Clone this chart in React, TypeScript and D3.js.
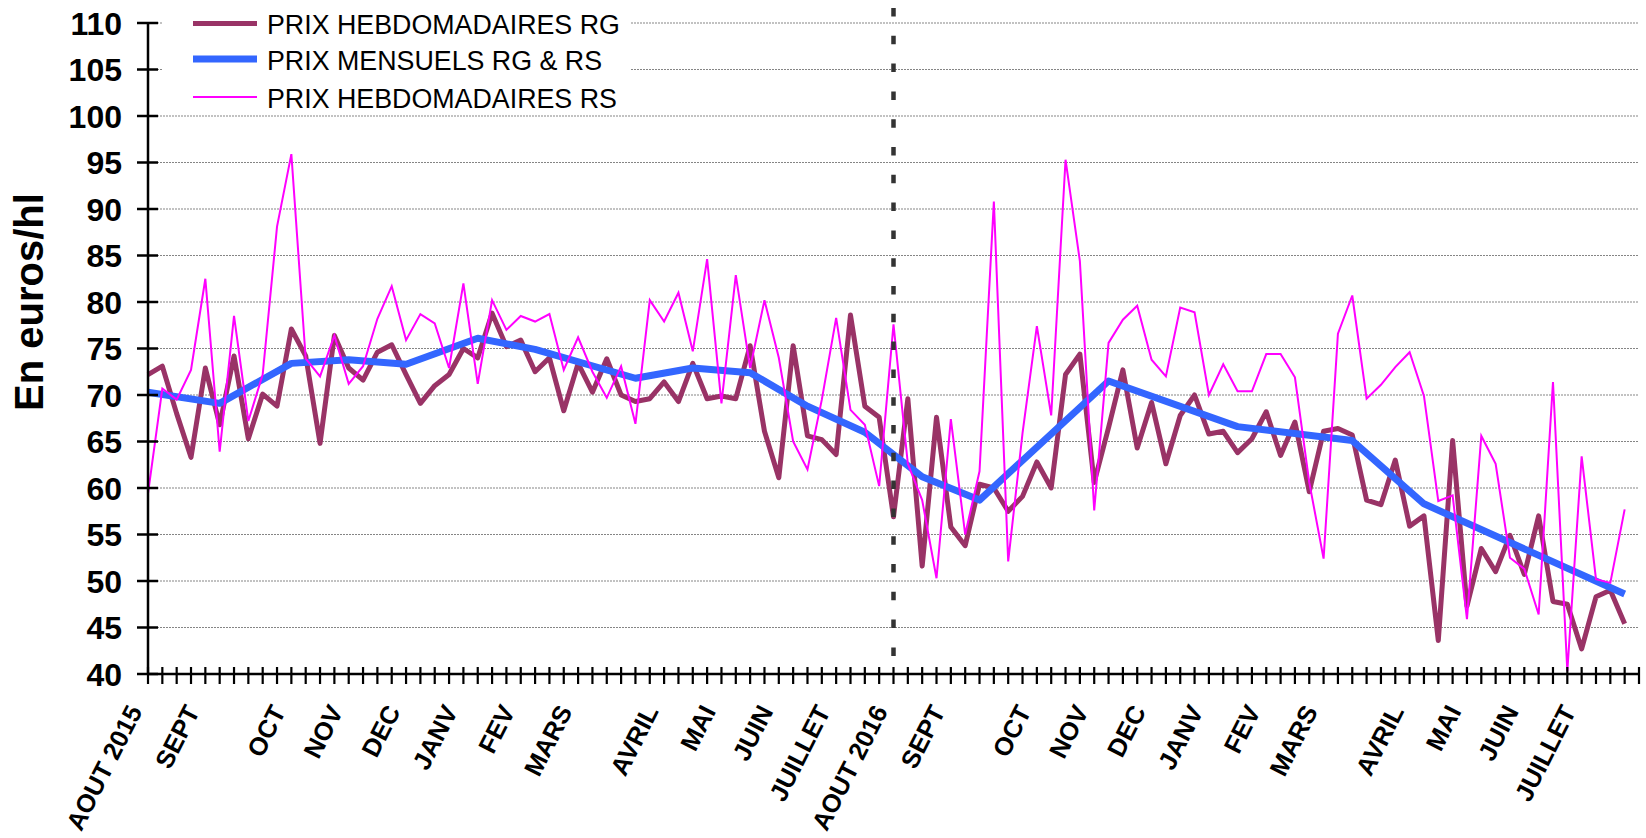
import { useEffect, useRef } from 'react';
import * as d3 from 'd3';

// weekly prices, AOUT 2015 -> JUILLET 2017 (euros/hl)
const weeklyRG = [
  72.2, 73.1, 68.0, 63.3, 72.9, 66.8, 74.2, 65.3, 70.1, 68.8,
  77.1, 74.2, 64.8, 76.4, 72.9, 71.6, 74.6, 75.4, 72.2, 69.1,
  71.0, 72.2, 75.0, 74.0, 78.8, 75.2, 75.9, 72.5, 74.0, 68.3,
  73.4, 70.3, 73.9, 70.0, 69.3, 69.6, 71.4, 69.3, 73.4, 69.6,
  69.9, 69.6, 75.3, 66.1, 61.1, 75.3, 65.6, 65.2, 63.6, 78.6,
  68.8, 67.6, 56.9, 69.6, 51.6, 67.6, 55.8, 53.8, 60.4, 60.0,
  57.5, 59.1, 62.8, 60.0, 72.2, 74.4, 60.6, 66.5, 72.7, 64.3,
  69.2, 62.6, 67.8, 70.0, 65.8, 66.1, 63.8, 65.3, 68.2, 63.5,
  67.1, 59.6, 66.1, 66.4, 65.7, 58.7, 58.2, 63.0, 55.9, 57.0,
  43.6, 65.1, 47.3, 53.5, 51.0, 54.9, 50.7, 57.0, 47.8, 47.5,
  42.7, 48.3, 49.0, 45.4,
];

const weeklyRS = [
  59.4, 70.7, 69.5, 72.7, 82.5, 63.9, 78.5, 67.2, 72.2, 88.1,
  95.9, 73.9, 72.0, 76.4, 71.2, 73.1, 78.2, 81.7, 75.9, 78.7,
  77.7, 72.9, 82.0, 71.2, 80.2, 77.0, 78.5, 77.9, 78.7, 72.7,
  76.2, 72.5, 69.7, 73.1, 66.9, 80.2, 77.9, 81.0, 74.7, 84.6,
  69.1, 82.9, 72.9, 80.2, 74.0, 65.0, 62.0, 69.5, 78.3, 68.4,
  66.8, 60.2, 77.6, 62.6, 58.7, 50.3, 67.4, 55.0, 61.8, 90.8,
  52.1, 65.9, 77.4, 67.8, 95.3, 84.4, 57.6, 75.6, 78.1, 79.6,
  73.8, 72.0, 79.4, 78.9, 70.0, 73.3, 70.4, 70.4, 74.4, 74.4,
  71.9, 60.6, 52.4, 76.6, 80.7, 69.6, 71.1, 73.0, 74.6, 69.9,
  58.6, 59.2, 45.9, 65.6, 62.6, 52.5, 51.3, 46.4, 71.4, 40.3,
  63.4, 50.2, 49.8, 57.7,
];

// monthly price RG & RS, placed on the week where it was published
const monthlyWeek = [0, 5, 10, 14, 18, 23, 27, 34, 38, 42, 46, 50, 54, 58, 67, 76, 84, 89, 103];
const monthlyPrice = [70.3, 69.1, 73.4, 73.8, 73.3, 76.1, 74.9, 71.8, 72.9, 72.4, 68.8, 66.0, 61.2, 58.7, 71.5, 66.6, 65.1, 58.3, 48.6];

const monthLabels = [
  'AOUT 2015', 'SEPT', 'OCT', 'NOV', 'DEC', 'JANV', 'FEV', 'MARS', 'AVRIL', 'MAI', 'JUIN', 'JUILLET',
  'AOUT 2016', 'SEPT', 'OCT', 'NOV', 'DEC', 'JANV', 'FEV', 'MARS', 'AVRIL', 'MAI', 'JUIN', 'JUILLET',
];
const monthLabelWeek = [0, 4, 10, 14, 18, 22, 26, 30, 36, 40, 44, 48, 52, 56, 62, 66, 70, 74, 78, 82, 88, 92, 96, 100];

const yTicks = [40, 45, 50, 55, 60, 65, 70, 75, 80, 85, 90, 95, 100, 105, 110];
const weekCount = 105;
const splitWeek = 52;

const legendNames = ['PRIX HEBDOMADAIRES RG', 'PRIX MENSUELS RG & RS', 'PRIX HEBDOMADAIRES RS'];

const App = () => {
  const ref = useRef<SVGSVGElement>(null);

  useEffect(() => {
    const left = 148, right = 1639, top = 23, bottom = 674;
    const font = '"Liberation Sans", Arial, sans-serif';

    const svg = d3.select(ref.current);
    svg.selectAll('*').remove();

    const x = d3.scaleLinear().domain([0, weekCount - 1]).range([left, right]);
    const y = d3.scaleLinear().domain([40, 110]).range([bottom, top]);

    // horizontal gridlines
    svg.append('g')
      .selectAll('line')
      .data(yTicks.filter((v) => v > 40))
      .join('line')
      .attr('x1', left)
      .attr('x2', right)
      .attr('y1', (d) => y(d))
      .attr('y2', (d) => y(d))
      .attr('stroke', '#858585')
      .attr('stroke-width', 1.2)
      .attr('stroke-dasharray', '2,1');

    const line = d3.line<[number, number]>()
      .x((d) => x(d[0]))
      .y((d) => y(d[1]))
      .curve(d3.curveLinear);

    svg.append('path')
      .datum(weeklyRG.map((v, i) => [i, v] as [number, number]))
      .attr('d', line)
      .attr('fill', 'none')
      .attr('stroke', '#993366')
      .attr('stroke-width', 5)
      .attr('stroke-linejoin', 'round');

    svg.append('path')
      .datum(monthlyWeek.map((w, i) => [w, monthlyPrice[i]] as [number, number]))
      .attr('d', line)
      .attr('fill', 'none')
      .attr('stroke', '#3366ff')
      .attr('stroke-width', 7)
      .attr('stroke-linejoin', 'round');

    svg.append('path')
      .datum(weeklyRS.map((v, i) => [i, v] as [number, number]))
      .attr('d', line)
      .attr('fill', 'none')
      .attr('stroke', '#ff00ff')
      .attr('stroke-width', 2);

    // axes
    const axes = svg.append('g').attr('stroke', '#000');
    axes.append('line')
      .attr('x1', left).attr('x2', left)
      .attr('y1', y(110)).attr('y2', bottom)
      .attr('stroke-width', 2.5);
    axes.append('line')
      .attr('x1', left).attr('x2', right)
      .attr('y1', bottom).attr('y2', bottom)
      .attr('stroke-width', 2.5);
    axes.selectAll('.ytick')
      .data(yTicks)
      .join('line')
      .attr('class', 'ytick')
      .attr('x1', left - 11).attr('x2', left + 10)
      .attr('y1', (d) => y(d)).attr('y2', (d) => y(d))
      .attr('stroke-width', 2.5);
    axes.selectAll('.xtick')
      .data(d3.range(weekCount))
      .join('line')
      .attr('class', 'xtick')
      .attr('x1', (d) => x(d)).attr('x2', (d) => x(d))
      .attr('y1', bottom - 7).attr('y2', bottom + 10)
      .attr('stroke-width', 2.2);

    svg.append('g')
      .selectAll('text')
      .data(yTicks)
      .join('text')
      .attr('x', 122)
      .attr('y', (d) => y(d))
      .attr('dy', '0.36em')
      .attr('text-anchor', 'end')
      .attr('font-family', font)
      .attr('font-weight', 'bold')
      .attr('font-size', 32)
      .text((d) => d);

    svg.append('g')
      .selectAll('text')
      .data(monthLabels)
      .join('text')
      .attr('transform', (_, i) => `translate(${x(monthLabelWeek[i]) - 13},707) rotate(-63)`)
      .attr('dy', '0.35em')
      .attr('text-anchor', 'end')
      .attr('font-family', font)
      .attr('font-weight', 'bold')
      .attr('font-size', 25.5)
      .text((d) => d);

    svg.append('text')
      .attr('transform', 'translate(43,302) rotate(-90)')
      .attr('text-anchor', 'middle')
      .attr('font-family', font)
      .attr('font-weight', 'bold')
      .attr('font-size', 40)
      .text('En euros/hl');

    // dashed separator at AOUT 2016
    svg.append('line')
      .attr('x1', x(splitWeek)).attr('x2', x(splitWeek))
      .attr('y1', 8).attr('y2', bottom)
      .attr('stroke', '#333')
      .attr('stroke-width', 4.5)
      .attr('stroke-dasharray', '8.5,19.3');

    // legend
    const legend = svg.append('g');
    legend.append('rect')
      .attr('x', 162).attr('y', 0)
      .attr('width', 468).attr('height', 112)
      .attr('fill', '#fff');
    const legendColors = ['#993366', '#3366ff', '#ff00ff'];
    const legendWidths = [5, 7, 2];
    const legendRows = [23.5, 59, 97];
    legendNames.forEach((name, i) => {
      legend.append('line')
        .attr('x1', 193).attr('x2', 257)
        .attr('y1', legendRows[i]).attr('y2', legendRows[i])
        .attr('stroke', legendColors[i])
        .attr('stroke-width', legendWidths[i]);
      legend.append('text')
        .attr('x', 267)
        .attr('y', legendRows[i] + 1)
        .attr('dy', '0.36em')
        .attr('font-family', font)
        .attr('font-size', 26.8)
        .text(name);
    });
  }, []);

  return (
    <svg
      ref={ref}
      width={1646}
      height={838}
      style={{ position: 'absolute', left: 0, top: 0, background: '#fff' }}
    />
  );
};

export default App;
